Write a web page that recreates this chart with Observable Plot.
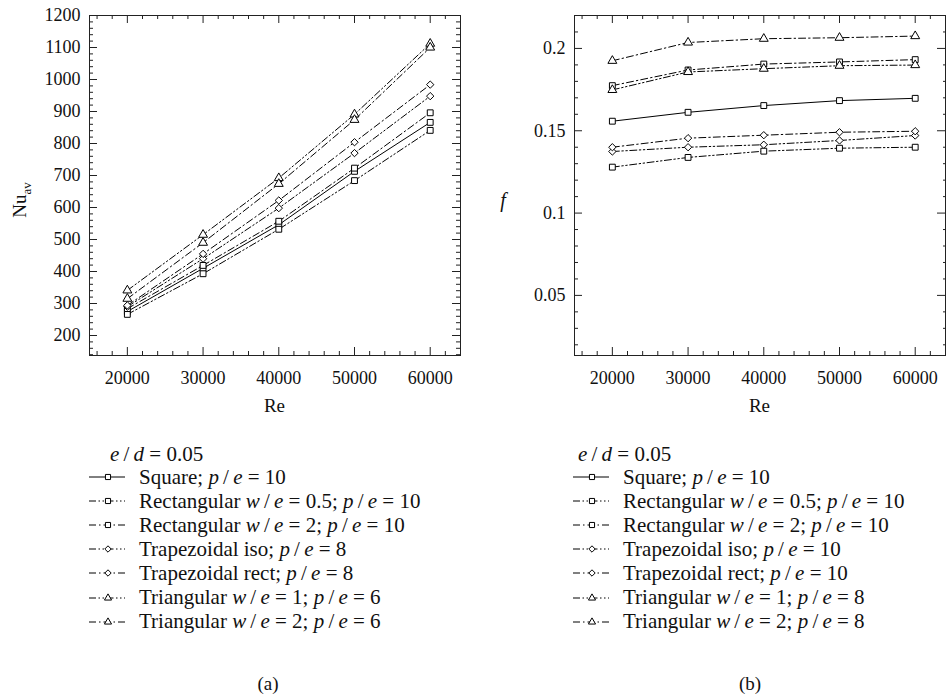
<!DOCTYPE html>
<html><head><meta charset="utf-8">
<script src="https://cdn.jsdelivr.net/npm/d3@7"></script>
<script src="https://cdn.jsdelivr.net/npm/@observablehq/plot@0.6"></script>
<style>
body{margin:0;background:#fff;width:947px;height:700px;overflow:hidden;position:relative;font-family:"Liberation Serif",serif;color:#111;}
svg text{font-family:"Liberation Serif",serif !important;}
.abs{position:absolute;white-space:nowrap;}
.lbl{font-size:19px;transform:translate(-50%,-50%);}
.leg{font-size:21px;display:flex;align-items:center;height:24px;}
.leg svg{display:block;}
</style></head><body>
<div id="pa" class="abs" style="left:0;top:0"></div>
<div id="pb" class="abs" style="left:474px;top:0"></div>
<div id="extra"></div>
<script>
// ---------- data ----------
const re = [20000, 30000, 40000, 50000, 60000];
const seriesKeys = ["square", "rect05", "rect2", "trapIso", "trapRect", "tri1", "tri2"];

// Nu_av (panel a)
const nuSquare   = [275, 410, 546, 713, 866];
const nuRect05   = [266, 393, 532, 684, 841];
const nuRect2    = [284, 419, 557, 723, 896];
const nuTrapIso  = [290, 440, 598, 770, 948];
const nuTrapRect = [294, 455, 622, 804, 984];
const nuTri1     = [341, 515, 692, 891, 1112];
const nuTri2     = [315, 490, 674, 874, 1100];

// f (panel b)
const fSquare   = [0.1558, 0.1612, 0.1653, 0.1683, 0.1697];
const fRect05   = [0.1279, 0.1338, 0.1376, 0.1394, 0.1400];
const fRect2    = [0.1774, 0.1869, 0.1905, 0.1918, 0.1932];
const fTrapIso  = [0.1374, 0.1400, 0.1415, 0.1441, 0.1471];
const fTrapRect = [0.1400, 0.1455, 0.1473, 0.1491, 0.1497];
const fTri1     = [0.1748, 0.1857, 0.1877, 0.1895, 0.1899];
const fTri2     = [0.1925, 0.2036, 0.2059, 0.2065, 0.2075];

// legend labels
const S = "&thinsp;/&thinsp;";
const legendA = [
  `Square; <i>p</i>${S}<i>e</i> = 10`,
  `Rectangular <i>w</i>${S}<i>e</i> = 0.5; <i>p</i>${S}<i>e</i> = 10`,
  `Rectangular <i>w</i>${S}<i>e</i> = 2; <i>p</i>${S}<i>e</i> = 10`,
  `Trapezoidal iso; <i>p</i>${S}<i>e</i> = 8`,
  `Trapezoidal rect; <i>p</i>${S}<i>e</i> = 8`,
  `Triangular <i>w</i>${S}<i>e</i> = 1; <i>p</i>${S}<i>e</i> = 6`,
  `Triangular <i>w</i>${S}<i>e</i> = 2; <i>p</i>${S}<i>e</i> = 6`
];
const legendB = [
  `Square; <i>p</i>${S}<i>e</i> = 10`,
  `Rectangular <i>w</i>${S}<i>e</i> = 0.5; <i>p</i>${S}<i>e</i> = 10`,
  `Rectangular <i>w</i>${S}<i>e</i> = 2; <i>p</i>${S}<i>e</i> = 10`,
  `Trapezoidal iso; <i>p</i>${S}<i>e</i> = 10`,
  `Trapezoidal rect; <i>p</i>${S}<i>e</i> = 10`,
  `Triangular <i>w</i>${S}<i>e</i> = 1; <i>p</i>${S}<i>e</i> = 8`,
  `Triangular <i>w</i>${S}<i>e</i> = 2; <i>p</i>${S}<i>e</i> = 8`
];
const legendHead = `<i>e</i>${S}<i>d</i> = 0.05`;

// ticks
const xMajor = [20000, 30000, 40000, 50000, 60000];
const xMinor = d3.range(16000, 64001, 2000).filter(v => v % 10000 !== 0);
const nuMajor = d3.range(200, 1201, 100);
const nuMinor = d3.range(140, 1200, 20).filter(v => v % 100 !== 0);
const fMajor = [0.05, 0.1, 0.15, 0.2];
const fMinor = [0.02,0.03,0.04,0.06,0.07,0.08,0.09,0.11,0.12,0.13,0.14,0.16,0.17,0.18,0.19,0.21];

// ---------- styles ----------
const DDOT = "7,2.5,1.5,2.5,1.5,2.5";
const DDASH = "7,3,1.5,3";
const style = {
  square:   {symbol: "square",   dash: null},
  rect05:   {symbol: "square",   dash: DDOT},
  rect2:    {symbol: "square",   dash: DDASH},
  trapIso:  {symbol: "diamond2", dash: DDOT},
  trapRect: {symbol: "diamond2", dash: DDASH},
  tri1:     {symbol: "triangle", dash: DDOT},
  tri2:     {symbol: "triangle", dash: DDASH}
};

function rows(arrs) {
  const out = [];
  seriesKeys.forEach((k, i) => arrs[i].forEach((v, j) => out.push({key: k, re: re[j], v})));
  return out;
}
const dataA = rows([nuSquare, nuRect05, nuRect2, nuTrapIso, nuTrapRect, nuTri1, nuTri2]);
const dataB = rows([fSquare, fRect05, fRect2, fTrapIso, fTrapRect, fTri1, fTri2]);

function frameTicks(W, H, xMaj, xMin, yMaj, yMin, rightMinor = 4) {
  const m = [];
  const tk = (vals, len, which) => {
    if (which === "b") m.push(Plot.tickX(vals, {x: d => d, insetTop: H - len, stroke: "#222"}));
    if (which === "t") m.push(Plot.tickX(vals, {x: d => d, insetBottom: H - len, stroke: "#222"}));
    if (which === "l") m.push(Plot.tickY(vals, {y: d => d, insetRight: W - len, stroke: "#222"}));
    if (which === "r") m.push(Plot.tickY(vals, {y: d => d, insetLeft: W - len, stroke: "#222"}));
  };
  tk(xMaj, 8, "b"); tk(xMin, 4, "b"); tk(xMaj, 8, "t"); tk(xMin, 4, "t");
  tk(yMaj, 8, "l"); tk(yMin, 4, "l"); tk(yMaj, 8, "r"); tk(yMin, rightMinor, "r");
  return m;
}

const FONT = '"Liberation Serif", serif';
function panel(data, yDomain, yMaj, yMin, width, mL, mR, yFmt, rightMinor) {
  const H = 340, W = width - mL - mR;
  const marks = [];
  for (const k of seriesKeys) {
    const d = data.filter(r => r.key === k);
    marks.push(Plot.line(d, {x: "re", y: "v", stroke: "black", strokeWidth: 1, strokeDasharray: style[k].dash}));
  }
  for (const k of seriesKeys) {
    const d = data.filter(r => r.key === k);
    marks.push(Plot.dot(d, {x: "re", y: "v", symbol: () => style[k].symbol, r: 3.3, fill: "white", stroke: "black", strokeWidth: 1}));
  }
  marks.push(...frameTicks(W, H, xMajor, xMinor, yMaj, yMin, rightMinor));
  marks.push(Plot.frame({stroke: "#222", strokeWidth: 1}));
  marks.push(Plot.axisX({anchor: "bottom", ticks: xMajor, tickSize: 0, tickPadding: 16, tickFormat: "d", label: null, fontSize: 18}));
  marks.push(Plot.axisY({anchor: "left", ticks: yMaj, tickSize: 0, tickPadding: 9, tickFormat: yFmt, label: null, fontSize: 18}));
  return Plot.plot({
    width, height: 420,
    marginLeft: mL, marginRight: mR, marginTop: 15, marginBottom: 65,
    x: {domain: [15000, 64000]},
    y: {domain: yDomain},
    symbol: {type: "identity"},
    style: {fontFamily: FONT, fontSize: "18px", color: "#111", background: "white", overflow: "visible"},
    marks
  });
}

document.getElementById("pa").append(panel(dataA, [137.5, 1200], nuMajor, nuMinor, 470, 89, 10, "d", 4));
document.getElementById("pb").append(panel(dataB, [0.0135, 0.22], fMajor, fMinor, 473, 100, 2, d => String(d), 2));

// ---------- labels & legends (HTML) ----------
const extra = document.getElementById("extra");
function addLabel(html, x, y, extraStyle = "") {
  const d = document.createElement("div");
  d.className = "abs lbl";
  d.style.cssText = `left:${x}px;top:${y}px;${extraStyle}`;
  d.innerHTML = html;
  extra.append(d);
}
addLabel("Nu<sub style='font-size:13px'>av</sub>", 22, 200, "transform:translate(-50%,-50%) rotate(-90deg);");
addLabel("<i>f</i>", 503, 200, "font-size:20px;");
addLabel("Re", 274.5, 406);
addLabel("Re", 759.5, 406);
addLabel("(a)", 268, 684);
addLabel("(b)", 750, 684);

function sample(k) {
  const w = 36, h = 14, cx = 19, cy = 7;
  const svg = d3.create("svg").attr("width", w).attr("height", h);
  svg.append("line").attr("x1", 0).attr("x2", w).attr("y1", cy).attr("y2", cy)
    .attr("stroke", "black").attr("stroke-width", 1).attr("stroke-dasharray", style[k].dash);
  const sym = {square: d3.symbolSquare, diamond2: d3.symbolDiamond2, triangle: d3.symbolTriangle}[style[k].symbol];
  const size = style[k].symbol === "triangle" ? 22 : 26;
  svg.append("path").attr("d", d3.symbol(sym, size)()).attr("transform", `translate(${cx},${cy})`)
    .attr("fill", "white").attr("stroke", "black").attr("stroke-width", 1);
  return svg.node();
}
function legend(labels, x0, xHead) {
  const head = document.createElement("div");
  head.className = "abs leg";
  head.style.cssText = `left:${xHead}px;top:${454 - 12}px`;
  const hs = document.createElement("span");
  hs.innerHTML = legendHead;
  head.append(hs);
  extra.append(head);
  labels.forEach((t, i) => {
    const row = document.createElement("div");
    row.className = "abs leg";
    row.style.cssText = `left:${x0}px;top:${477 + 24.1 * i - 12}px`;
    const s = sample(seriesKeys[i]);
    s.style.marginRight = "14px";
    row.append(s);
    const sp = document.createElement("span");
    sp.innerHTML = t;
    row.append(sp);
    extra.append(row);
  });
}
legend(legendA, 89, 110);
legend(legendB, 573, 578);
</script>
</body></html>
